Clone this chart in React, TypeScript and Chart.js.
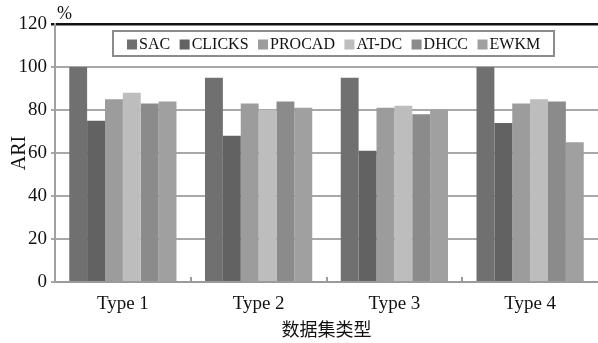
import React, { useEffect, useRef } from "react";
import { Chart, registerables } from "chart.js";

Chart.register(...registerables);

// ARI (%) of each clustering method on four dataset types
const categories = ["Type 1", "Type 2", "Type 3", "Type 4"];
const methods = ["SAC", "CLICKS", "PROCAD", "AT-DC", "DHCC", "EWKM"];
const sac = [100, 95, 95, 100];
const clicks = [75, 68, 61, 74];
const procad = [85, 83, 81, 83];
const atdc = [88, 80, 82, 85];
const dhcc = [83, 84, 78, 84];
const ewkm = [84, 81, 80, 65];
const seriesValues = [sac, clicks, procad, atdc, dhcc, ewkm];
const seriesColors = ["#707070", "#626262", "#9c9c9c", "#bdbdbd", "#8b8b8b", "#a0a0a0"];
const yMin = 0;
const yMax = 120;
const yStep = 20;

const SERIF = "'Liberation Serif', 'Times New Roman', serif";

// Boxed legend drawn inside the plot area
const boxedLegend = {
  id: "boxedLegend",
  afterDraw(chart: any) {
    const { ctx } = chart;
    const boxL = 113, boxT = 31, boxR = 554, boxB = 56;
    ctx.save();
    ctx.fillStyle = "#ffffff";
    ctx.fillRect(boxL, boxT, boxR - boxL, boxB - boxT);
    ctx.strokeStyle = "#8c8c8c";
    ctx.lineWidth = 2;
    ctx.strokeRect(boxL, boxT, boxR - boxL, boxB - boxT);
    ctx.font = `16px ${SERIF}`;
    ctx.textBaseline = "middle";
    ctx.textAlign = "left";
    const midY = (boxT + boxB) / 2 + 1;
    let x = 127;
    chart.data.datasets.forEach((ds: any) => {
      ctx.fillStyle = ds.backgroundColor;
      ctx.fillRect(x, midY - 5, 10, 10);
      ctx.fillStyle = "#111111";
      ctx.fillText(ds.label, x + 12, midY);
      x += 12 + ctx.measureText(ds.label).width + 9.5;
    });
    // unit mark above the axis
    ctx.font = `18px ${SERIF}`;
    ctx.textBaseline = "alphabetic";
    ctx.fillText("%", 57, 19);
    ctx.restore();
  },
};

// Short inward tick marks between categories on the x axis
const innerTicks = {
  id: "innerTicks",
  afterDatasetsDraw(chart: any) {
    const { ctx, chartArea } = chart;
    const xs = chart.scales.x;
    const n = categories.length;
    const w = (xs.right - xs.left) / n;
    ctx.save();
    ctx.strokeStyle = "#9a9a9a";
    ctx.lineWidth = 2;
    for (let i = 1; i < n; i++) {
      const px = Math.round(xs.left + w * i);
      ctx.beginPath();
      ctx.moveTo(px, chartArea.bottom);
      ctx.lineTo(px, chartArea.bottom - 5);
      ctx.stroke();
    }
    ctx.restore();
  },
};

export default function App() {
  const canvasRef = useRef<HTMLCanvasElement | null>(null);

  useEffect(() => {
    if (!canvasRef.current) return;
    const chart = new Chart(canvasRef.current, {
      type: "bar",
      data: {
        labels: categories,
        datasets: methods.map((m, i) => ({
          label: m,
          data: seriesValues[i],
          backgroundColor: seriesColors[i],
          borderWidth: 0,
          categoryPercentage: 0.79,
          barPercentage: 1.0,
        })),
      },
      options: {
        responsive: false,
        animation: false,
        devicePixelRatio: 1,
        layout: { padding: { top: 24, right: -3, left: 0, bottom: 0 } },
        plugins: {
          legend: { display: false },
          tooltip: { enabled: false },
        },
        scales: {
          x: {
            grid: { display: false },
            border: { display: true, color: "#9a9a9a", width: 2 },
            ticks: {
              color: "#111111",
              font: { family: SERIF, size: 19 },
              padding: 3,
            },
            title: {
              display: true,
              text: "数据集类型",
              color: "#111111",
              font: { family: "'Noto Sans CJK SC', sans-serif", size: 18 },
              padding: { top: 0, bottom: 3 },
            },
            afterFit(scale: any) {
              scale.height = 61;
            },
          },
          y: {
            min: yMin,
            max: yMax,
            ticks: {
              stepSize: yStep,
              color: "#111111",
              font: { family: SERIF, size: 19 },
              padding: 4,
            },
            grid: {
              color: (c: any) => (c.tick && c.tick.value === yMax ? "#111111" : "#a8a8a8"),
              lineWidth: (c: any) => (c.tick && c.tick.value === yMax ? 2.5 : 2),
              tickLength: 4,
            },
            border: { display: true, color: "#a0a0a0", width: 2 },
            title: {
              display: true,
              text: "ARI",
              color: "#111111",
              font: { family: SERIF, size: 20 },
              padding: { top: 8, bottom: 0 },
            },
            afterFit(scale: any) {
              scale.width = 55;
            },
          },
        },
      },
      plugins: [innerTicks, boxedLegend],
    });
    return () => chart.destroy();
  }, []);

  return (
    <div style={{ position: "fixed", left: 0, top: 0, width: 598, height: 343, background: "#ffffff" }}>
      <canvas ref={canvasRef} width={598} height={343} style={{ width: 598, height: 343, display: "block" }} />
    </div>
  );
}
